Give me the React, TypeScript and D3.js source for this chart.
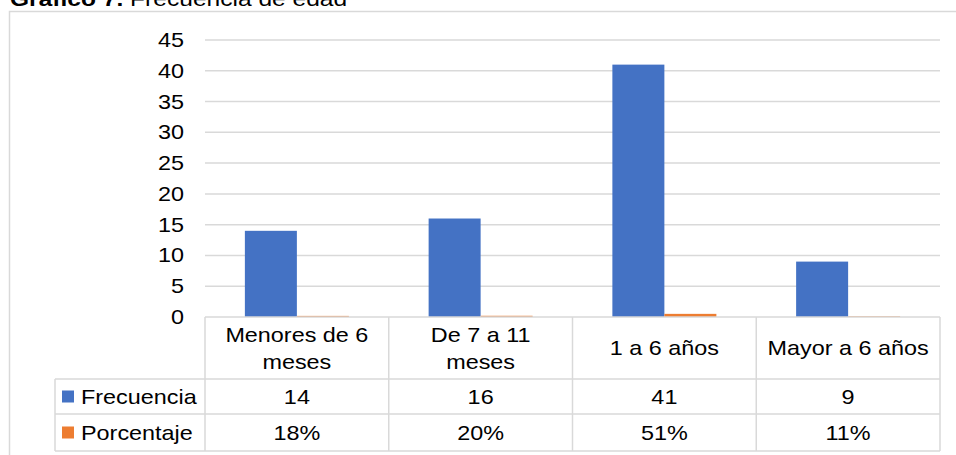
import React from "react";
import * as d3 from "d3";

const categories: string[][] = [
  ["Menores de 6", "meses"],
  ["De 7 a 11", "meses"],
  ["1 a 6 años"],
  ["Mayor a 6 años"],
];
const seriesNames = ["Frecuencia", "Porcentaje"];
const frecuencia = [14, 16, 41, 9];
const porcentaje = [0.18, 0.2, 0.51, 0.11];
const porcentajeLabels = ["18%", "20%", "51%", "11%"];
const yTicks = [0, 5, 10, 15, 20, 25, 30, 35, 40, 45];
const colors = ["#4472C4", "#ED7D31"];

const W = 956;
const H = 455;
const FONT = "'Liberation Sans', Arial, sans-serif";
const SX = 1.17; // horizontal stretch of the text
const GRID = "#d9d9d9";

function T({
  x,
  y,
  children,
  anchor = "middle",
  size = 20,
  weight = "normal",
}: {
  x: number;
  y: number;
  children: React.ReactNode;
  anchor?: "start" | "middle" | "end";
  size?: number;
  weight?: string;
}) {
  return (
    <g transform={`translate(${x},${y}) scale(${SX},1)`}>
      <text
        x={0}
        y={0}
        textAnchor={anchor}
        fontFamily={FONT}
        fontSize={size}
        fontWeight={weight}
        fill="#000"
      >
        {children}
      </text>
    </g>
  );
}

export default function App() {
  const plotLeft = 205;
  const plotRight = 940;
  const y0 = 317;
  const yTop = 40;

  const x = d3
    .scaleBand<number>()
    .domain(d3.range(categories.length))
    .range([plotLeft, plotRight])
    .paddingInner(0)
    .paddingOuter(0);
  const bw = x.bandwidth();
  const groupW = 104;
  const xs = d3
    .scaleBand<string>()
    .domain(seriesNames)
    .range([(bw - groupW) / 2, (bw + groupW) / 2]);

  const y = d3.scaleLinear().domain([0, 45]).range([y0, yTop]);

  const rowHeader = [y0, 379];
  const rowFrec = [379, 414];
  const rowPorc = [414, 451];
  const legendLeft = 55;

  const values = [frecuencia, porcentaje];
  const rowTexts = [frecuencia.map(String), porcentajeLabels];
  const rows = [rowFrec, rowPorc];

  return (
    <div style={{ position: "fixed", left: 0, top: 0 }}>
      <svg width={W} height={H} style={{ display: "block", background: "#fff" }}>
        {/* chart frame */}
        <rect x={9.5} y={11.5} width={960} height={460} fill="none" stroke={GRID} strokeWidth={1.5} />

        {/* title */}
        <g transform={`translate(10,6) scale(${SX},1)`}>
          <text x={0} y={0} fontFamily={FONT} fontSize={21} fill="#000">
            <tspan fontWeight="bold">Gráfico 7.</tspan>
            <tspan> Frecuencia de edad</tspan>
          </text>
        </g>

        {/* gridlines */}
        {yTicks.slice(1).map((t) => (
          <line key={t} x1={plotLeft} x2={plotRight} y1={y(t)} y2={y(t)} stroke={GRID} strokeWidth={1.5} />
        ))}

        {/* y tick labels */}
        {yTicks.map((t) => (
          <T key={t} x={184} y={y(t) + 7} anchor="end">
            {t}
          </T>
        ))}

        {/* bars */}
        {seriesNames.map((s, si) =>
          values[si].map((v, i) => (
            <rect
              key={s + i}
              x={(x(i) as number) + (xs(s) as number)}
              y={y(v)}
              width={xs.bandwidth()}
              height={y0 - y(v)}
              fill={colors[si]}
            />
          ))
        )}

        {/* data table */}
        <g stroke={GRID} strokeWidth={1.5} fill="none">
          <line x1={plotLeft} x2={plotRight} y1={y0} y2={y0} />
          <line x1={legendLeft} x2={plotRight} y1={rowFrec[0]} y2={rowFrec[0]} />
          <line x1={legendLeft} x2={plotRight} y1={rowPorc[0]} y2={rowPorc[0]} />
          <line x1={legendLeft} x2={plotRight} y1={rowPorc[1]} y2={rowPorc[1]} />
          <line x1={legendLeft} x2={legendLeft} y1={rowFrec[0]} y2={rowPorc[1]} />
          {d3.range(categories.length + 1).map((i) => {
            const xx = i < categories.length ? (x(i) as number) : plotRight;
            return <line key={i} x1={xx} x2={xx} y1={y0} y2={rowPorc[1]} />;
          })}
        </g>

        {/* category headers */}
        {categories.map((lines, i) => {
          const cx = (x(i) as number) + bw / 2;
          const cy = (rowHeader[0] + rowHeader[1]) / 2;
          const lh = 27;
          return (
            <g key={i}>
              {lines.map((ln, li) => (
                <T key={li} x={cx} y={cy + (li - (lines.length - 1) / 2) * lh + 7}>
                  {ln}
                </T>
              ))}
            </g>
          );
        })}

        {/* rows with legend keys */}
        {rows.map((r, ri) => {
          const cy = (r[0] + r[1]) / 2;
          return (
            <g key={ri}>
              <rect x={62} y={cy - 6} width={12} height={12} fill={colors[ri]} />
              <T x={81} y={cy + 7} anchor="start">
                {seriesNames[ri]}
              </T>
              {rowTexts[ri].map((txt, i) => (
                <T key={i} x={(x(i) as number) + bw / 2} y={cy + 7}>
                  {txt}
                </T>
              ))}
            </g>
          );
        })}
      </svg>
    </div>
  );
}
